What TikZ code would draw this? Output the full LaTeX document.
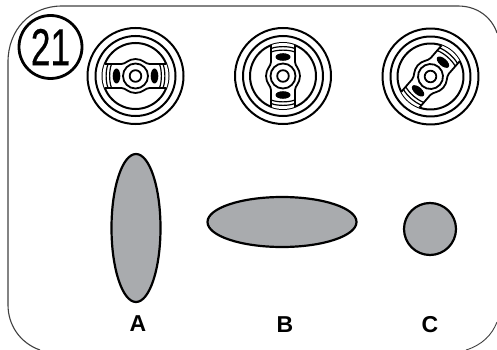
\documentclass[tikz,border=0pt]{standalone}
\usepackage{fontspec}
\setmainfont{Liberation Sans}
\definecolor{shapegray}{HTML}{A9ABAE}
\tikzset{
  blob/.style={draw=black,line width=2.2pt,fill=shapegray},
  lett/.style={font=\bfseries\fontsize{23}{26}\selectfont,inner sep=0pt},
  ring/.style={draw=black,line width=2pt},
  knob/.pic={
    \draw[ring] (0,0) circle (48);
    \draw[ring] (0,0) circle (40);
    \draw[ring] (0,0) circle (33);
    \begin{scope}
      \clip (0,0) circle (33);
      \draw[line width=1.8pt,fill=white]
        (-40,-12) -- (-14,-12) .. controls (-10,-12) and (-7,-17) .. (0,-17)
        .. controls (7,-17) and (10,-12) .. (14,-12) -- (40,-12) -- (40,12) -- (14,12)
        .. controls (10,12) and (7,17) .. (0,17)
        .. controls (-7,17) and (-10,12) .. (-14,12) -- (-40,12) -- cycle;
      \foreach \s in {-1,1}{
        \fill[black] (\s*19,0) ellipse (3.8 and 7.5);
        \draw[line width=1.2pt] (\s*24,-12) .. controls (\s*26.5,-5) and (\s*26.5,5) .. (\s*24,12);
        \draw[line width=1.2pt] (\s*27.5,-12) .. controls (\s*30,-5) and (\s*30,5) .. (\s*27.5,12);
      }
    \end{scope}
    \draw[line width=1.8pt,fill=white] (0,0) circle (12.5);
    \draw[line width=1.8pt] (0,0) circle (5.8);
  }
}
\begin{document}
\begin{tikzpicture}[x=1pt,y=-1pt]
\useasboundingbox (0,0) rectangle (497,350);
\draw[draw=black!75,line width=1.1pt] (40,350) .. controls (20,343) and (8,325) .. (8,305) -- (8,62)
  .. controls (8,30) and (30,6) .. (62,6) -- (458,6) .. controls (478,6) and (492,18) .. (497,33);
\draw[draw=black!75,line width=.9pt] (497,322) .. controls (492,335) and (482,345) .. (466,350);
\node[draw=black,line width=2.8pt,circle,minimum size=63pt,inner sep=0pt,font=\fontsize{52}{52}\selectfont] (num) at (50.5,47) {\addfontfeature{FakeStretch=0.68,FakeBold=0.4}21};
\pic[rotate=0] (k1) at (135.5,76) {knob};
\pic[rotate=90] (k2) at (283,76) {knob};
\pic[rotate=49] (k3) at (430.5,76.5) {knob};
\draw[blob] (136,228) ellipse (24.5 and 74);
\draw[blob] (282,222) ellipse (74.5 and 25);
\draw[blob] (430,229) circle (26);
\node[lett] (a) at (138,324) {A};
\node[lett] (b) at (285,325) {B};
\node[lett] (c) at (430,325) {C};
\end{tikzpicture}
\end{document}
